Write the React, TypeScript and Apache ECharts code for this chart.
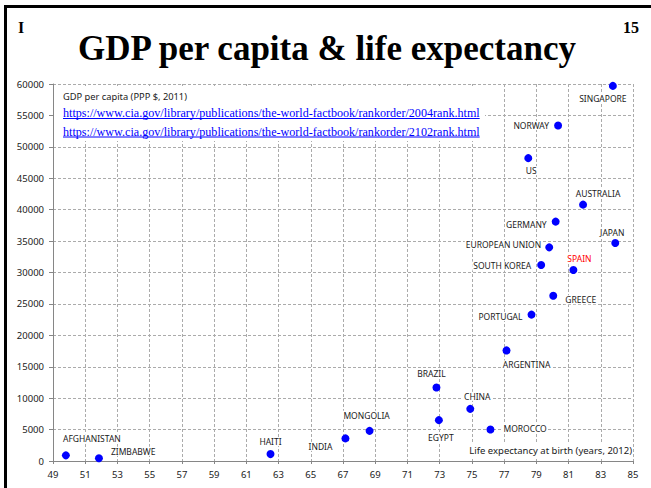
import React, { useEffect, useRef } from "react";
import * as echarts from "echarts";

const countries = [
  "AFGHANISTAN", "ZIMBABWE", "HAITI", "INDIA", "MONGOLIA", "EGYPT", "BRAZIL",
  "CHINA", "MOROCCO", "ARGENTINA", "PORTUGAL", "GREECE", "SOUTH KOREA", "SPAIN",
  "EUROPEAN UNION", "JAPAN", "GERMANY", "AUSTRALIA", "US", "NORWAY", "SINGAPORE",
];
const lifeExpectancy = [
  49.8, 51.85, 62.5, 67.15, 68.65, 72.95, 72.8, 74.9, 76.15, 77.15, 78.7,
  80.05, 79.3, 81.3, 79.8, 83.9, 80.2, 81.9, 78.5, 80.35, 83.75,
];
const gdpPerCapita = [
  900, 450, 1100, 3600, 4800, 6500, 11700, 8300, 5000, 17600, 23300, 26300,
  31200, 30400, 34000, 34700, 38100, 40800, 48200, 53400, 59700,
];
const highlighted = ["SPAIN"];

const X_MIN = 49;
const X_MAX = 85;
const X_STEP = 2;
const Y_MIN = 0;
const Y_MAX = 60000;
const Y_STEP = 5000;

const titleText = "GDP per capita & life expectancy";
const gdpNote = "GDP per capita (PPP $, 2011)";
const links = [
  "https://www.cia.gov/library/publications/the-world-factbook/rankorder/2004rank.html",
  "https://www.cia.gov/library/publications/the-world-factbook/rankorder/2102rank.html",
];
const lifeNote = "Life expectancy at birth (years, 2012)";

// label placement (style, not data)
const labelPlace: Record<string, [string, number, number, number]> = {
  AFGHANISTAN: ["top", 8, 26, 0],
  ZIMBABWE: ["right", 7, 0, -7],
  HAITI: ["top", 4, 0, 0],
  INDIA: ["left", 8, 0, 8],
  MONGOLIA: ["top", 7, -3, 0],
  EGYPT: ["bottom", 9, 2, 0],
  BRAZIL: ["top", 5, -5, 0],
  CHINA: ["top", 4, 7, 0],
  MOROCCO: ["right", 8, 0, -1],
  ARGENTINA: ["bottom", 6, 20, 0],
  PORTUGAL: ["left", 4, 0, 2],
  GREECE: ["right", 7, 0, 4],
  "SOUTH KOREA": ["left", 5, 0, 1],
  SPAIN: ["top", 3, 6, 0],
  "EUROPEAN UNION": ["left", 3, 0, -3],
  JAPAN: ["top", 2, -3, 0],
  GERMANY: ["left", 4, 0, 3],
  AUSTRALIA: ["top", 3, 15, 0],
  US: ["bottom", 4, 3, 0],
  NORWAY: ["left", 4, 0, 0],
  SINGAPORE: ["bottom", 4, -10, 0],
};

const SANS = "'Noto Sans', 'Open Sans', sans-serif";
const SERIF = "'Liberation Serif', 'DejaVu Serif', serif";
const LINK_FONT_SIZE = 12.1;

function measure(text: string, font: string): number {
  const c = document.createElement("canvas").getContext("2d");
  if (!c) return text.length * 5;
  c.font = font;
  return c.measureText(text).width;
}

export default function App() {
  const ref = useRef<HTMLDivElement>(null);

  useEffect(() => {
    if (!ref.current) return;
    const chart = echarts.init(ref.current, undefined, { renderer: "svg" });

    const data = countries.map((name, i) => {
      const p = labelPlace[name] || ["top", 4, 0, 0];
      return {
        name,
        value: [lifeExpectancy[i] - X_MIN, gdpPerCapita[i]],
        label: {
          show: true,
          formatter: name,
          position: p[0],
          distance: p[1],
          offset: [p[2], p[3]],
          color: highlighted.includes(name) ? "#ff0000" : "#1a1a1a",
          fontFamily: SANS,
          fontSize: 8.5,
          backgroundColor: "#ffffff",
          padding: [0, 1],
        },
      };
    });

    const linkFont = `${LINK_FONT_SIZE}px ${SERIF}`;
    const linkW = links.map((l) => measure(l, linkFont));
    const linkX = 63;
    const linkY = [113, 131.5];

    const graphics: any[] = [
      // slide frame
      { type: "rect", shape: { x: 4, y: 5, width: 647, height: 3 }, style: { fill: "#000" }, z: 20 },
      { type: "rect", shape: { x: 4, y: 5, width: 3, height: 483 }, style: { fill: "#000" }, z: 20 },
      {
        type: "text", x: 18, y: 27, z: 20,
        style: { text: "I", fontFamily: SERIF, fontSize: 16, fontWeight: "bold", fill: "#000", textVerticalAlign: "middle" },
      },
      {
        type: "text", x: 639, y: 27, z: 20,
        style: { text: "15", fontFamily: SERIF, fontSize: 16, fontWeight: "bold", fill: "#000", textAlign: "right", textVerticalAlign: "middle" },
      },
      {
        type: "text", x: 327, y: 48, z: 20,
        style: { text: titleText, fontFamily: SERIF, fontSize: 35, fontWeight: "bold", fill: "#000", textAlign: "center", textVerticalAlign: "middle" },
      },
      // annotation box
      { type: "rect", shape: { x: 54, y: 86, width: 431, height: 55 }, style: { fill: "#fff" }, z: 10 },
      {
        type: "text", x: 63, y: 96, z: 11,
        style: { text: gdpNote, fontFamily: SANS, fontSize: 9.3, fill: "#1a1a1a", textVerticalAlign: "middle" },
      },
      // life expectancy box
      { type: "rect", shape: { x: 465, y: 442, width: 167, height: 16 }, style: { fill: "#fff" }, z: 10 },
      {
        type: "text", x: 632, y: 450, z: 11,
        style: { text: lifeNote, fontFamily: SANS, fontSize: 9.5, fill: "#1a1a1a", textAlign: "right", textVerticalAlign: "middle" },
      },
    ];
    links.forEach((l, i) => {
      graphics.push({
        type: "text", x: linkX, y: linkY[i], z: 11,
        style: { text: l, font: linkFont, fill: "#0000ff", textVerticalAlign: "middle" },
      });
      graphics.push({
        type: "line", z: 11,
        shape: { x1: linkX, y1: linkY[i] + 5.5, x2: linkX + linkW[i], y2: linkY[i] + 5.5 },
        style: { stroke: "#0000ff", lineWidth: 1 },
      });
    });

    const axisLabel = { fontFamily: SANS, fontSize: 9.5, color: "#1a1a1a" };
    const splitLine = { show: true, lineStyle: { color: "#ababab", type: [3, 2], width: 1 } };

    chart.setOption({
      animation: false,
      backgroundColor: "#ffffff",
      grid: { left: 53, right: 18, top: 84, bottom: 27, containLabel: false },
      xAxis: {
        type: "value",
        min: 0,
        max: X_MAX - X_MIN,
        interval: X_STEP,
        axisLine: { show: true, onZero: false, lineStyle: { color: "#868686" } },
        axisTick: { show: true, length: 3, lineStyle: { color: "#868686" } },
        axisLabel: { ...axisLabel, margin: 8, formatter: (v: number) => String(v + X_MIN) },
        splitLine,
      },
      yAxis: {
        type: "value",
        min: Y_MIN,
        max: Y_MAX,
        interval: Y_STEP,
        axisLine: { show: true, onZero: false, lineStyle: { color: "#868686" } },
        axisTick: { show: true, length: 4, lineStyle: { color: "#868686" } },
        axisLabel: { ...axisLabel, margin: 9, formatter: (v: number) => String(v) },
        splitLine,
      },
      graphic: graphics,
      series: [
        {
          type: "scatter",
          symbol: "circle",
          symbolSize: 8,
          itemStyle: { color: "#0000ff", opacity: 1 },
          data,
          z: 5,
        },
      ],
    });

    return () => chart.dispose();
  }, []);

  return (
    <div
      ref={ref}
      style={{ position: "fixed", left: 0, top: 0, width: 651, height: 488, background: "#fff" }}
    />
  );
}
